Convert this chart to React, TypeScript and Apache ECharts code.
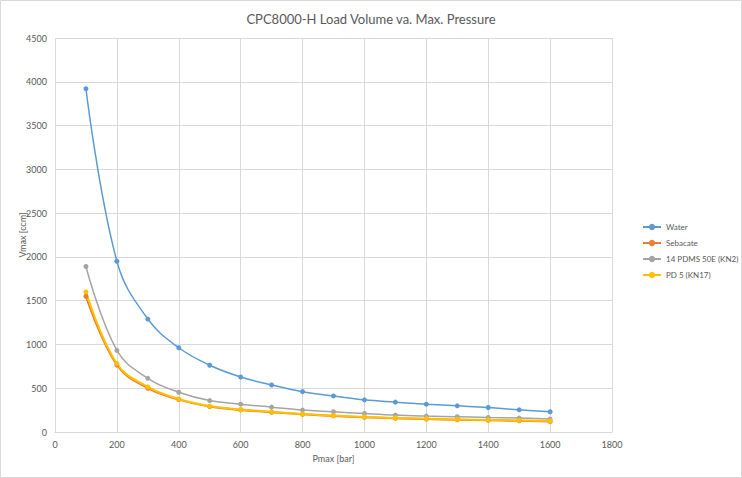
import React, { useEffect, useRef } from "react";
import * as echarts from "echarts";

const pressures = [100, 200, 300, 400, 500, 600, 700, 800, 900, 1000, 1100, 1200, 1300, 1400, 1500, 1600];
const water = [3920, 1950, 1290, 962, 762, 628, 537, 461, 412, 367, 341, 318, 299, 280, 253, 231];
const sebacate = [1550, 765, 500, 370, 290, 252, 225, 202, 184, 168, 157, 148, 140, 133, 128, 120];
const pdms = [1890, 932, 613, 454, 359, 318, 284, 250, 231, 211, 193, 182, 174, 166, 159, 148];
const pd5 = [1600, 780, 515, 377, 296, 257, 230, 206, 188, 172, 160, 152, 144, 137, 132, 126];

const seriesNames = ["Water", "Sebacate", "14 PDMS 50E (KN2)", "PD 5 (KN17)"];
const seriesColors = ["#5B9BD5", "#ED7D31", "#A5A5A5", "#FFC000"];
const seriesData = [water, sebacate, pdms, pd5];

const FONT = "Lato, 'Open Sans', sans-serif";
const TXT = "#595959";

export default function App() {
  const ref = useRef<HTMLDivElement>(null);
  useEffect(() => {
    document.body.style.margin = "0";
    const chart = echarts.init(ref.current!, undefined, { renderer: "svg" });
    chart.setOption({
      animation: false,
      backgroundColor: "#fff",
      title: {
        text: "CPC8000-H Load Volume va. Max. Pressure",
        left: "center",
        top: 7,
        textStyle: { fontFamily: FONT, fontSize: 13, fontWeight: "normal", color: TXT },
      },
      graphic: [
        {
          type: "rect",
          shape: { x: 0.5, y: 0.5, width: 741, height: 477 },
          style: { fill: "none", stroke: "#d9d9d9", lineWidth: 1 },
          silent: true,
        },
      ],
      legend: {
        orient: "vertical",
        left: 637,
        top: 218,
        itemGap: 8,
        itemWidth: 18,
        itemHeight: 8,
        textStyle: { fontFamily: FONT, fontSize: 8, color: TXT },
        data: seriesNames,
      },
      grid: { left: 55, right: 130, top: 38, bottom: 46, outerBoundsMode: "none", containLabel: false },
      xAxis: {
        type: "value",
        min: 0,
        max: 1800,
        interval: 200,
        name: "Pmax [bar]",
        nameLocation: "middle",
        nameGap: 22,
        nameMoveOverlap: false,
        nameTextStyle: { fontFamily: FONT, fontSize: 9, color: TXT },
        axisLine: { show: true, lineStyle: { color: "#d9d9d9" } },
        axisTick: { show: false },
        axisLabel: { fontFamily: FONT, fontSize: 9, color: TXT, margin: 8, formatter: (v: number) => String(v) },
        splitLine: { show: true, lineStyle: { color: "#d9d9d9" } },
      },
      yAxis: {
        type: "value",
        min: 0,
        max: 4500,
        interval: 500,
        name: "Vmax [ccm]",
        nameLocation: "middle",
        nameGap: 28,
        nameMoveOverlap: false,
        nameTextStyle: { fontFamily: FONT, fontSize: 9, color: TXT },
        axisLine: { show: false },
        axisTick: { show: false },
        axisLabel: { fontFamily: FONT, fontSize: 9, color: TXT, margin: 8, formatter: (v: number) => String(v) },
        splitLine: { show: true, lineStyle: { color: "#d9d9d9" } },
      },
      series: seriesNames.map((name, i) => ({
        name,
        type: "line",
        smooth: 0.4,
        symbol: "circle",
        symbolSize: 5,
        color: seriesColors[i],
        lineStyle: { width: i === 0 || i === 2 ? 1.5 : 2, color: seriesColors[i] },
        itemStyle: { color: seriesColors[i] },
        data: pressures.map((p, j) => [p, seriesData[i][j]]),
      })),
    });
    return () => chart.dispose();
  }, []);
  return <div ref={ref} style={{ width: 742, height: 478 }} />;
}
